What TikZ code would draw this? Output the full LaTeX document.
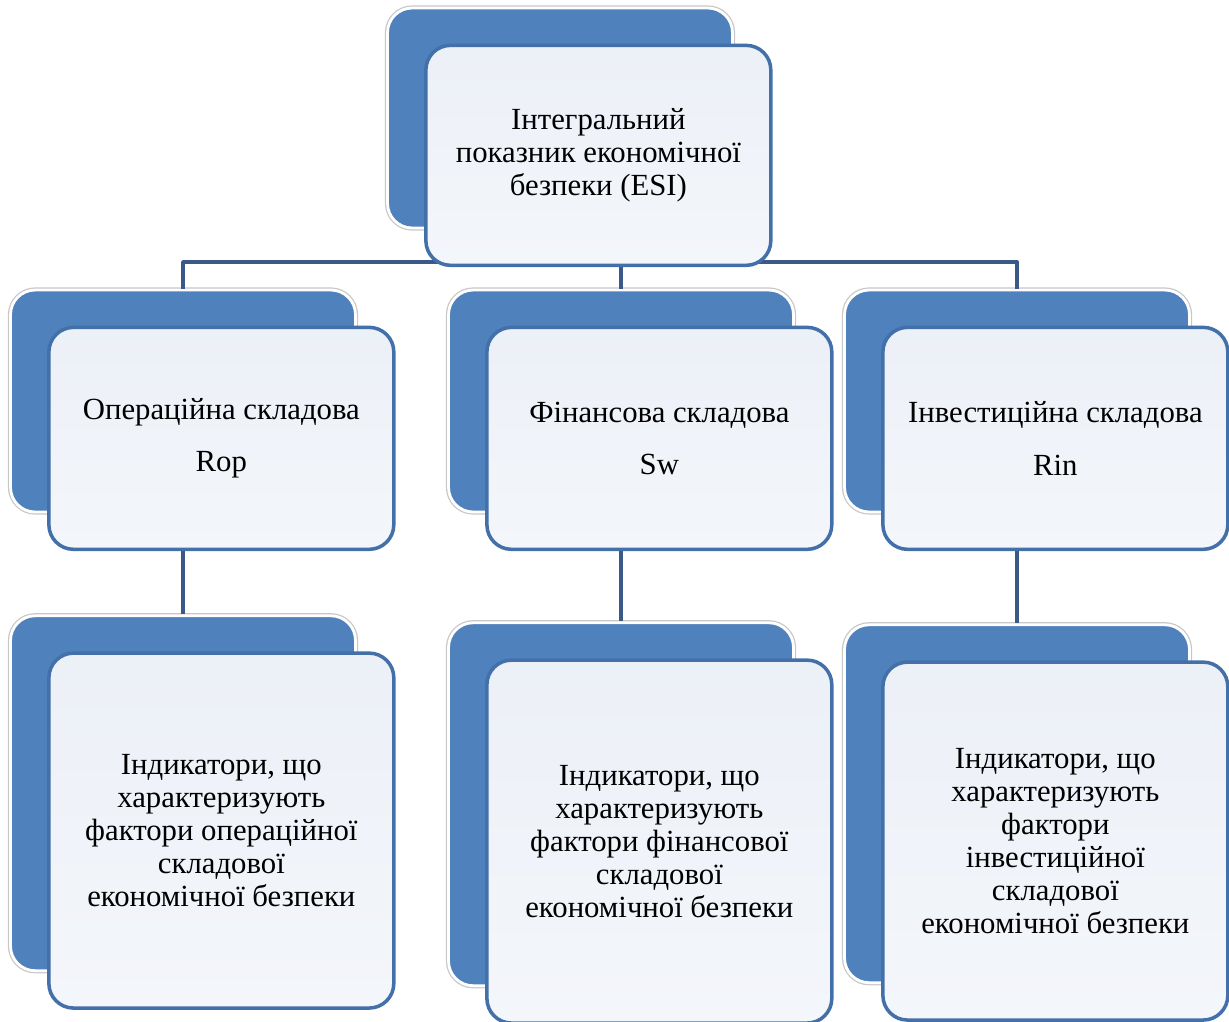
\documentclass[tikz,border=0pt]{standalone}
\usepackage{fontspec}
\setmainfont{LiberationSerif-Regular.ttf}
\newfontfamily\esifont{LiberationSerif-Regular.ttf}
\usetikzlibrary{positioning}

\definecolor{esiblue}{RGB}{79,129,189}
\definecolor{esiedge}{RGB}{68,112,170}
\definecolor{esiface}{RGB}{236,240,247}
\definecolor{esilink}{RGB}{58,88,136}

\tikzset{
  backbox/.style={fill=esiblue, draw=white, line width=1.6pt, rounded corners=14pt,
    minimum width=6.9cm, preaction={draw=black!22, line width=3pt}},
  frontbox/.style={draw=esiedge, line width=2pt, top color=esiface, bottom color=esiface!60!white,
    rounded corners=14pt, minimum width=6.9cm, align=center, anchor=north west,
    xshift=0.76cm, yshift=-0.74cm, font=\esifont\fontsize{17.5}{18.8}\selectfont},
  link/.style={draw=esilink, line width=2.2pt, line join=round},
}

\begin{document}
\begin{tikzpicture}[x=0.02cm, y=-0.02cm]
\useasboundingbox (0,0) rectangle (1229,1021);

% --- Back plates
\node[backbox, minimum height=4.4cm] (esiB) at (560,118) {};
\node[backbox, minimum height=4.44cm] (ropB) at (183,401) {};
\node[backbox, minimum height=4.44cm] (swB) at (621,401) {};
\node[backbox, minimum height=4.44cm] (rinB) at (1017,401) {};
\node[backbox, minimum height=7.1cm, below=2.02cm of ropB] (ropIB) {};
\node[backbox, minimum height=7.26cm, below=2.16cm of swB] (swIB) {};
\node[backbox, minimum height=7.16cm, below=2.2cm of rinB] (rinIB) {};

% --- Connectors
\coordinate (bus) at (560,262);
\draw[link] (esiB.south) -- (bus);
\draw[link] (ropB.north) |- (bus) -| (rinB.north);
\draw[link] (bus) -| (swB.north);
\draw[link] (ropB.south) -- (ropIB.north);
\draw[link] (swB.south) -- (swIB.north);
\draw[link] (rinB.south) -- (rinIB.north);

% --- Front cards
\node[frontbox, minimum height=4.4cm] (esi) at (esiB.north west)
  {Інтегральний\\ показник економічної\\ безпеки (ESI)};
\node[frontbox, minimum height=4.44cm] (rop) at (ropB.north west)
  {Операційна складова\\[11pt] Rop};
\node[frontbox, minimum height=4.44cm] (sw) at (swB.north west)
  {Фінансова складова\\[11pt] Sw};
\node[frontbox, minimum height=4.44cm] (rin) at (rinB.north west)
  {Інвестиційна складова\\[11pt] Rin};
\node[frontbox, minimum height=7.1cm] (ropI) at (ropIB.north west)
  {Індикатори, що\\ характеризують\\ фактори операційної\\ складової\\ економічної безпеки};
\node[frontbox, minimum height=7.26cm] (swI) at (swIB.north west)
  {Індикатори, що\\ характеризують\\ фактори фінансової\\ складової\\ економічної безпеки};
\node[frontbox, minimum height=7.16cm] (rinI) at (rinIB.north west)
  {Індикатори, що\\ характеризують\\ фактори\\ інвестиційної\\ складової\\ економічної безпеки};

\end{tikzpicture}
\end{document}
